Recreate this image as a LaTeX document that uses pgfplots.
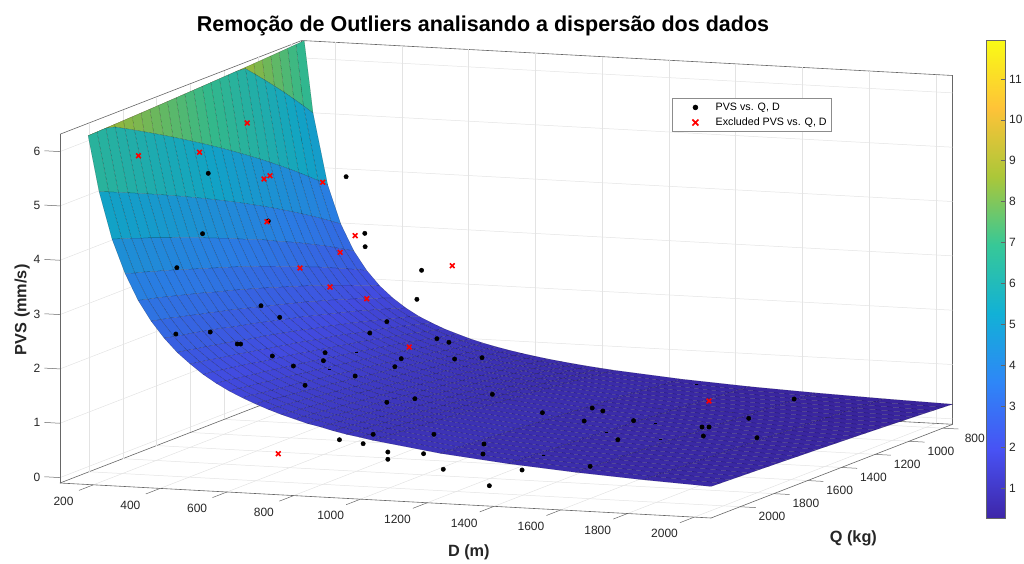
\documentclass[border=0pt]{standalone}
\usepackage{fontspec}
\setmainfont{Liberation Sans}
\usepackage{pgfplots}
\pgfplotsset{compat=1.18}
\definecolor{axg}{gray}{0.40}
\definecolor{txg}{gray}{0.15}
\pgfplotsset{colormap={parula}{rgb255=(62,38,168) rgb255=(72,82,244) rgb255=(46,135,247) rgb255=(18,177,214) rgb255=(55,200,151) rgb255=(171,199,57) rgb255=(254,195,56) rgb255=(249,251,21)},
colormap={paruladark}{rgb255=(57,35,155) rgb255=(66,75,224) rgb255=(42,124,227) rgb255=(17,163,197) rgb255=(51,184,139) rgb255=(157,183,52) rgb255=(234,179,52) rgb255=(229,231,19)}}
\pgfplotsset{legenddot/.style={legend image code/.code={\path (0pt,0pt)(38pt,0pt);\fill[black] (20pt,0pt) circle (2.4pt);}},
legendcross/.style={legend image code/.code={\path (0pt,0pt)(38pt,0pt);\draw[red,line width=1.6pt] (17pt,-3pt)--(23pt,3pt) (17pt,3pt)--(23pt,-3pt);}}}
\begin{document}
\begin{tikzpicture}
\path[use as bounding box] (0,0) rectangle (1024pt,563pt);
\begin{axis}[
  at={(60pt,45pt)},anchor=south west,
  x={(0.33385pt,-0.01795pt)},y={(0.16892pt,0.06548pt)},z={(0pt,54.33pt)},y dir=reverse,
  xmin=100,xmax=2050,ymin=741,ymax=2172,zmin=-0.1,zmax=6.32,
  xtick={200,400,...,2000},ytick={800,1000,...,2000},ztick={0,...,6},
  /pgf/number format/1000 sep={},/pgf/number format/assume math mode=true,
  tick label style={font=\fontsize{12}{14}\selectfont,text=txg},
  x tick label style={anchor=center,xshift=-29.8pt,yshift=-16.6pt},
  y tick label style={anchor=center,xshift=32pt,yshift=-10pt},
  z tick label style={anchor=center,xshift=-23pt,yshift=0.6pt},
  grid=major,grid style={black!11,line width=.5pt},
  axis line style={axg,line width=.6pt},
  major tick length=0pt,
  3d box=background,
  clip=false,
  point meta min=0.27,point meta max=11.95,colormap name=paruladark,
  every axis title shift=0pt,
  title={Remoção de Outliers analisando a dispersão dos dados},
  title style={font=\bfseries\fontsize{21.5}{24}\selectfont,at={(axis description cs:0.4738,1.0314)},anchor=center},
  xlabel={D (m)},ylabel={Q (kg)},zlabel={PVS (mm/s)},
  xlabel style={font=\bfseries\fontsize{16.3}{18}\selectfont,text=txg,at={(axis description cs:0.458,-0.0711)},anchor=center,sloped=false},
  ylabel style={font=\bfseries\fontsize{16.3}{18}\selectfont,text=txg,at={(axis description cs:0.8887,-0.0425)},anchor=center,sloped=false},
  zlabel style={font=\bfseries\fontsize{16.3}{18}\selectfont,text=txg,at={(axis description cs:-0.0425,0.436)},anchor=center},
  legend style={draw=black!45,line width=.6pt,font=\fontsize{10.7}{12}\selectfont,at={(axis description cs:0.6859,0.8793)},anchor=north west,legend cell align=left,inner sep=2.5pt,row sep=2pt},
]
\addlegendimage{legenddot}
\addlegendentry{PVS vs. Q, D}
\addlegendimage{legendcross}
\addlegendentry{Excluded PVS vs. Q, D}
% front left edge and tick marks
\draw[axg,line width=.6pt] (axis cs:100,2172,-0.1)--(axis cs:100,2172,6.32);
\pgfplotsinvokeforeach{200,400,...,2000}{\draw[axg,line width=.5pt] (axis cs:#1,2172,-0.1)--(axis cs:#1,2257,-0.1);}
\pgfplotsinvokeforeach{800,1000,...,2000}{\draw[axg,line width=.5pt] (axis cs:2050,#1,-0.1)--(axis cs:2097,#1,-0.1);}
\pgfplotsinvokeforeach{0,...,6}{\draw[axg,line width=.5pt] (axis cs:100,2172,#1)--(axis cs:53,2172,#1);}
% clipped top part of the surface: D Q z colour
\addplot3[surf,shader=flat corner,draw=black,draw opacity=.35,line width=.25pt,z buffer=none,mesh/ordering=rowwise,mesh/cols=26,point meta=\thisrow{c},forget plot] table[x=D,y=Q,z=z]{
D Q z c
107.6 741 6.32 6.83
111.7 798.24 6.32 7.11
115.6 855.48 6.32 7.38
119.4 912.72 6.32 7.64
123.1 969.96 6.32 7.89
126.7 1027.2 6.32 8.14
130.2 1084.44 6.32 8.38
133.6 1141.68 6.32 8.61
136.9 1198.92 6.32 8.84
140.1 1256.16 6.32 9.06
143.3 1313.4 6.32 9.28
146.3 1370.64 6.32 9.50
149.4 1427.88 6.32 9.71
152.3 1485.12 6.32 9.91
155.2 1542.36 6.32 10.11
158.1 1599.6 6.32 10.31
160.9 1656.84 6.32 10.51
163.7 1714.08 6.32 10.70
166.4 1771.32 6.32 10.89
169.0 1828.56 6.32 11.08
171.7 1885.8 6.32 11.26
174.2 1943.04 6.32 11.44
176.8 2000.28 6.32 11.62
179.3 2057.52 6.32 11.80
181.8 2114.76 6.32 11.95
184.2 2172 6.32 11.95
134 741 4.996 4.996
134 798.24 5.199 5.199
134 855.48 5.395 5.395
134 912.72 5.586 5.586
134 969.96 5.770 5.770
134 1027.2 5.950 5.950
134 1084.44 6.125 6.125
134 1141.68 6.296 6.296
136.9 1198.92 6.32 6.463
140.1 1256.16 6.32 6.626
143.3 1313.4 6.32 6.786
146.3 1370.64 6.32 6.943
149.4 1427.88 6.32 7.096
152.3 1485.12 6.32 7.247
155.2 1542.36 6.32 7.395
158.1 1599.6 6.32 7.540
160.9 1656.84 6.32 7.684
163.7 1714.08 6.32 7.825
166.4 1771.32 6.32 7.964
169.0 1828.56 6.32 8.100
171.7 1885.8 6.32 8.235
174.2 1943.04 6.32 8.368
176.8 2000.28 6.32 8.499
179.3 2057.52 6.32 8.628
181.8 2114.76 6.32 8.756
184.2 2172 6.32 8.881
178 741 3.687 3.687
178 798.24 3.837 3.837
178 855.48 3.982 3.982
178 912.72 4.122 4.122
178 969.96 4.258 4.258
178 1027.2 4.391 4.391
178 1084.44 4.520 4.520
178 1141.68 4.646 4.646
178 1198.92 4.769 4.769
178 1256.16 4.890 4.890
178 1313.4 5.008 5.008
178 1370.64 5.124 5.124
178 1427.88 5.237 5.237
178 1485.12 5.348 5.348
178 1542.36 5.457 5.457
178 1599.6 5.565 5.565
178 1656.84 5.671 5.671
178 1714.08 5.775 5.775
178 1771.32 5.877 5.877
178 1828.56 5.978 5.978
178 1885.8 6.077 6.077
178 1943.04 6.175 6.175
178 2000.28 6.272 6.272
179.3 2057.52 6.32 6.367
181.8 2114.76 6.32 6.461
184.2 2172 6.32 6.554
217 741 2.983 2.983
217 798.24 3.104 3.104
217 855.48 3.221 3.221
217 912.72 3.335 3.335
217 969.96 3.445 3.445
217 1027.2 3.552 3.552
217 1084.44 3.657 3.657
217 1141.68 3.759 3.759
217 1198.92 3.859 3.859
217 1256.16 3.956 3.956
217 1313.4 4.052 4.052
217 1370.64 4.146 4.146
217 1427.88 4.237 4.237
217 1485.12 4.327 4.327
217 1542.36 4.415 4.415
217 1599.6 4.502 4.502
217 1656.84 4.588 4.588
217 1714.08 4.672 4.672
217 1771.32 4.755 4.755
217 1828.56 4.836 4.836
217 1885.8 4.917 4.917
217 1943.04 4.996 4.996
217 2000.28 5.074 5.074
217 2057.52 5.151 5.151
217 2114.76 5.228 5.228
217 2172 5.303 5.303
};
% surface, D = 217 ... 1036 in steps of 39, 26 values of Q in each row
\addplot3[surf,shader=flat corner,draw=black,draw opacity=.35,line width=.25pt,z buffer=none,mesh/ordering=rowwise,mesh/cols=26,forget plot] table[row sep=\\,x expr={217+39*floor((\coordindex+0.5)/26)},y expr={741+57.24*mod(\coordindex,26)},z=z]{
z\\
2.983\\3.104\\3.221\\3.335\\3.445\\3.552\\3.657\\3.759\\3.859\\3.956\\4.052\\4.146\\4.237\\4.327\\4.415\\4.502\\4.588\\4.672\\4.755\\4.836\\4.917\\4.996\\5.074\\5.151\\5.228\\5.303\\
2.50\\2.60\\2.70\\2.80\\2.89\\2.98\\3.07\\3.15\\3.23\\3.32\\3.40\\3.47\\3.55\\3.63\\3.70\\3.77\\3.85\\3.92\\3.99\\4.05\\4.12\\4.19\\4.25\\4.32\\4.38\\4.44\\
2.15\\2.24\\2.32\\2.40\\2.48\\2.56\\2.63\\2.71\\2.78\\2.85\\2.92\\2.99\\3.05\\3.12\\3.18\\3.24\\3.30\\3.36\\3.42\\3.48\\3.54\\3.60\\3.65\\3.71\\3.76\\3.82\\
1.88\\1.96\\2.03\\2.10\\2.17\\2.24\\2.30\\2.37\\2.43\\2.49\\2.55\\2.61\\2.67\\2.73\\2.78\\2.84\\2.89\\2.94\\3.00\\3.05\\3.10\\3.15\\3.20\\3.25\\3.29\\3.34\\
1.67\\1.74\\1.80\\1.87\\1.93\\1.99\\2.05\\2.11\\2.16\\2.22\\2.27\\2.32\\2.37\\2.42\\2.47\\2.52\\2.57\\2.62\\2.66\\2.71\\2.75\\2.80\\2.84\\2.89\\2.93\\2.97\\
1.50\\1.56\\1.62\\1.68\\1.73\\1.79\\1.84\\1.89\\1.94\\1.99\\2.04\\2.09\\2.13\\2.18\\2.22\\2.27\\2.31\\2.35\\2.39\\2.44\\2.48\\2.52\\2.56\\2.59\\2.63\\2.67\\
1.36\\1.42\\1.47\\1.52\\1.57\\1.62\\1.67\\1.72\\1.76\\1.81\\1.85\\1.89\\1.94\\1.98\\2.02\\2.06\\2.10\\2.13\\2.17\\2.21\\2.25\\2.28\\2.32\\2.35\\2.39\\2.42\\
1.25\\1.30\\1.35\\1.40\\1.44\\1.49\\1.53\\1.57\\1.61\\1.66\\1.70\\1.73\\1.77\\1.81\\1.85\\1.88\\1.92\\1.95\\1.99\\2.02\\2.06\\2.09\\2.12\\2.16\\2.19\\2.22\\
1.15\\1.20\\1.24\\1.29\\1.33\\1.37\\1.41\\1.45\\1.49\\1.53\\1.56\\1.60\\1.63\\1.67\\1.70\\1.74\\1.77\\1.80\\1.83\\1.86\\1.90\\1.93\\1.96\\1.99\\2.02\\2.04\\
1.07\\1.11\\1.15\\1.19\\1.23\\1.27\\1.31\\1.34\\1.38\\1.41\\1.45\\1.48\\1.51\\1.54\\1.58\\1.61\\1.64\\1.67\\1.70\\1.73\\1.76\\1.78\\1.81\\1.84\\1.87\\1.89\\
.992\\1.03\\1.07\\1.11\\1.15\\1.18\\1.22\\1.25\\1.28\\1.32\\1.35\\1.38\\1.41\\1.44\\1.47\\1.50\\1.53\\1.55\\1.58\\1.61\\1.64\\1.66\\1.69\\1.71\\1.74\\1.76\\
.928\\.966\\1.00\\1.04\\1.07\\1.11\\1.14\\1.17\\1.20\\1.23\\1.26\\1.29\\1.32\\1.35\\1.37\\1.40\\1.43\\1.45\\1.48\\1.51\\1.53\\1.55\\1.58\\1.60\\1.63\\1.65\\
.872\\.907\\.942\\.975\\1.01\\1.04\\1.07\\1.10\\1.13\\1.16\\1.18\\1.21\\1.24\\1.26\\1.29\\1.32\\1.34\\1.37\\1.39\\1.41\\1.44\\1.46\\1.48\\1.51\\1.53\\1.55\\
.822\\.855\\.888\\.919\\.949\\.979\\1.01\\1.04\\1.06\\1.09\\1.12\\1.14\\1.17\\1.19\\1.22\\1.24\\1.26\\1.29\\1.31\\1.33\\1.35\\1.38\\1.40\\1.42\\1.44\\1.46\\
.777\\.809\\.839\\.869\\.897\\.925\\.953\\.979\\1.01\\1.03\\1.06\\1.08\\1.10\\1.13\\1.15\\1.17\\1.20\\1.22\\1.24\\1.26\\1.28\\1.30\\1.32\\1.34\\1.36\\1.38\\
.737\\.767\\.796\\.824\\.851\\.878\\.903\\.929\\.953\\.977\\1.00\\1.02\\1.05\\1.07\\1.09\\1.11\\1.13\\1.15\\1.17\\1.19\\1.21\\1.23\\1.25\\1.27\\1.29\\1.31\\
.700\\.728\\.756\\.783\\.808\\.834\\.858\\.882\\.906\\.928\\.951\\.973\\.994\\1.02\\1.04\\1.06\\1.08\\1.10\\1.12\\1.13\\1.15\\1.17\\1.19\\1.21\\1.23\\1.24\\
.667\\.694\\.720\\.745\\.770\\.794\\.817\\.840\\.863\\.884\\.906\\.927\\.947\\.967\\.987\\1.01\\1.03\\1.04\\1.06\\1.08\\1.10\\1.12\\1.13\\1.15\\1.17\\1.19\\
.637\\.662\\.687\\.712\\.735\\.758\\.780\\.802\\.824\\.844\\.865\\.885\\.904\\.923\\.942\\.961\\.979\\.997\\1.01\\1.03\\1.05\\1.07\\1.08\\1.10\\1.12\\1.13\\
.609\\.634\\.658\\.681\\.703\\.725\\.747\\.768\\.788\\.808\\.827\\.846\\.865\\.884\\.902\\.919\\.937\\.954\\.971\\.988\\1.00\\1.02\\1.04\\1.05\\1.07\\1.08\\
.584\\.607\\.630\\.652\\.674\\.695\\.715\\.735\\.755\\.774\\.793\\.811\\.829\\.846\\.864\\.881\\.897\\.914\\.930\\.946\\.962\\.977\\.993\\1.01\\1.02\\1.04\\
.560\\.583\\.605\\.626\\.647\\.667\\.687\\.706\\.724\\.743\\.761\\.778\\.795\\.812\\.829\\.845\\.861\\.877\\.893\\.908\\.923\\.938\\.953\\.967\\.981\\.996\\
};
% surface, D = 1036 ... 2050
\addplot3[surf,shader=flat corner,draw=black,draw opacity=.3,line width=.25pt,z buffer=none,mesh/ordering=rowwise,mesh/cols=26,forget plot] table[row sep=\\,x expr={1036+202.8*floor((\coordindex+0.5)/26)},y expr={741+57.24*mod(\coordindex,26)},z=z]{
z\\
.560\\.583\\.605\\.626\\.647\\.667\\.687\\.706\\.724\\.743\\.761\\.778\\.795\\.812\\.829\\.845\\.861\\.877\\.893\\.908\\.923\\.938\\.953\\.967\\.981\\.996\\
.463\\.481\\.500\\.517\\.534\\.551\\.567\\.583\\.598\\.614\\.628\\.643\\.657\\.671\\.685\\.698\\.711\\.725\\.737\\.750\\.763\\.775\\.787\\.799\\.811\\.822\\
.393\\.409\\.425\\.440\\.454\\.468\\.482\\.496\\.509\\.522\\.534\\.547\\.559\\.571\\.582\\.594\\.605\\.616\\.627\\.638\\.648\\.659\\.669\\.679\\.689\\.699\\
.342\\.356\\.369\\.382\\.395\\.407\\.419\\.431\\.442\\.453\\.464\\.475\\.485\\.496\\.506\\.516\\.526\\.535\\.545\\.554\\.563\\.572\\.581\\.590\\.599\\.607\\
.302\\.314\\.326\\.337\\.348\\.359\\.370\\.380\\.390\\.400\\.410\\.419\\.429\\.438\\.447\\.455\\.464\\.473\\.481\\.489\\.497\\.505\\.513\\.521\\.529\\.536\\
.270\\.281\\.291\\.302\\.312\\.321\\.331\\.340\\.349\\.358\\.367\\.375\\.383\\.392\\.400\\.407\\.415\\.423\\.430\\.438\\.445\\.452\\.459\\.466\\.473\\.480\\
};
% retained measurements
\addplot3[only marks,mark=*,mark size=2.2pt,black,forget plot] table[x=D,y=Q,z=z]{
D Q z
457 2000 5.511
440 2000 4.394
363 2000 3.743
637 2000 4.693
615 2000 3.126
671 2000 2.931
360 2000 2.521
463 2000 2.592
544 2000 2.398
554 2000 2.401
649 2000 2.212
712 2000 2.048
807 2000 2.325
802 2000 2.176
747 2000 1.705
850 2000 0.737
1082 2000 3.398
992 2000 2.957
941 2000 2.731
1142 2000 2.693
1178 2000 2.639
1035 2000 2.290
1016 2000 2.136
1195 2000 2.337
1277 2000 2.388
897 2000 1.925
992 2000 1.473
1076 2000 1.567
1308 2000 1.724
1458 2000 1.435
1607 2000 1.571
1639 2000 1.527
1583 2000 1.324
951 2000 0.870
1133 2000 0.931
921 2000 0.688
995 2000 0.559
995 2000 0.425
1283 2000 0.802
1280 2000 0.616
1102 2000 0.563
1161 2000 0.296
1397 2000 0.361
1299 2000 0.039
1601 2000 0.496
870 2000 5.585
926 2000 4.561
927 2000 4.315
1096 2000 3.937
1684 2000 1.013
1731 2000 1.379
1936 2000 1.330
1957 2000 1.337
1940 2000 1.166
1706 1000 0.564
1570 1000 0.164
1797 1400 0.364
};
% measurements that lie almost in the surface: only a sliver shows
\addplot3[only marks,mark=-,mark size=1.6pt,black,line width=.9pt,forget plot] table[x=D,y=Q,z=z]{
D Q z
900 2000 2.363
820 2000 2.016
1651 2000 1.131
1796 2000 1.352
1812 2000 1.068
1461 2000 0.645
1920 2000 2.111
};
% excluded measurements
\addplot3[only marks,mark=x,mark size=3.3pt,red,line width=1.6pt,forget plot] table[x=D,y=Q,z=z]{
D Q z
270 1400 5.652
248 2000 5.766
431 2000 5.889
642 2000 5.528
624 2000 5.461
800 2000 5.459
633 2000 4.678
732 2000 3.859
822 2000 3.539
852 2000 4.187
667 2000 0.419
932 2000 3.360
1059 2000 2.513
897 2000 4.508
1188 2000 4.052
1957 2000 1.816
};
\end{axis}
% colour bar
\begin{axis}[
  at={(986.7pt,45pt)},anchor=south west,width=19pt,height=478pt,scale only axis,
  xmin=0,xmax=1,ymin=0.27,ymax=11.95,
  xtick=\empty,ytick={1,...,11},ytick pos=right,yticklabel pos=right,tick align=inside,major tick length=4.7pt,
  axis on top,axis line style={axg,line width=.6pt},every tick/.style={axg,line width=.5pt},
  /pgf/number format/assume math mode=true,
  tick label style={font=\fontsize{12}{14}\selectfont,text=txg},
  point meta min=0.27,point meta max=11.95,colormap name=parula,
]
\addplot[surf,shader=interp,mesh/rows=2,point meta=y] coordinates {(0,0.27)(1,0.27)(0,11.95)(1,11.95)};
\end{axis}
\end{tikzpicture}
\end{document}
